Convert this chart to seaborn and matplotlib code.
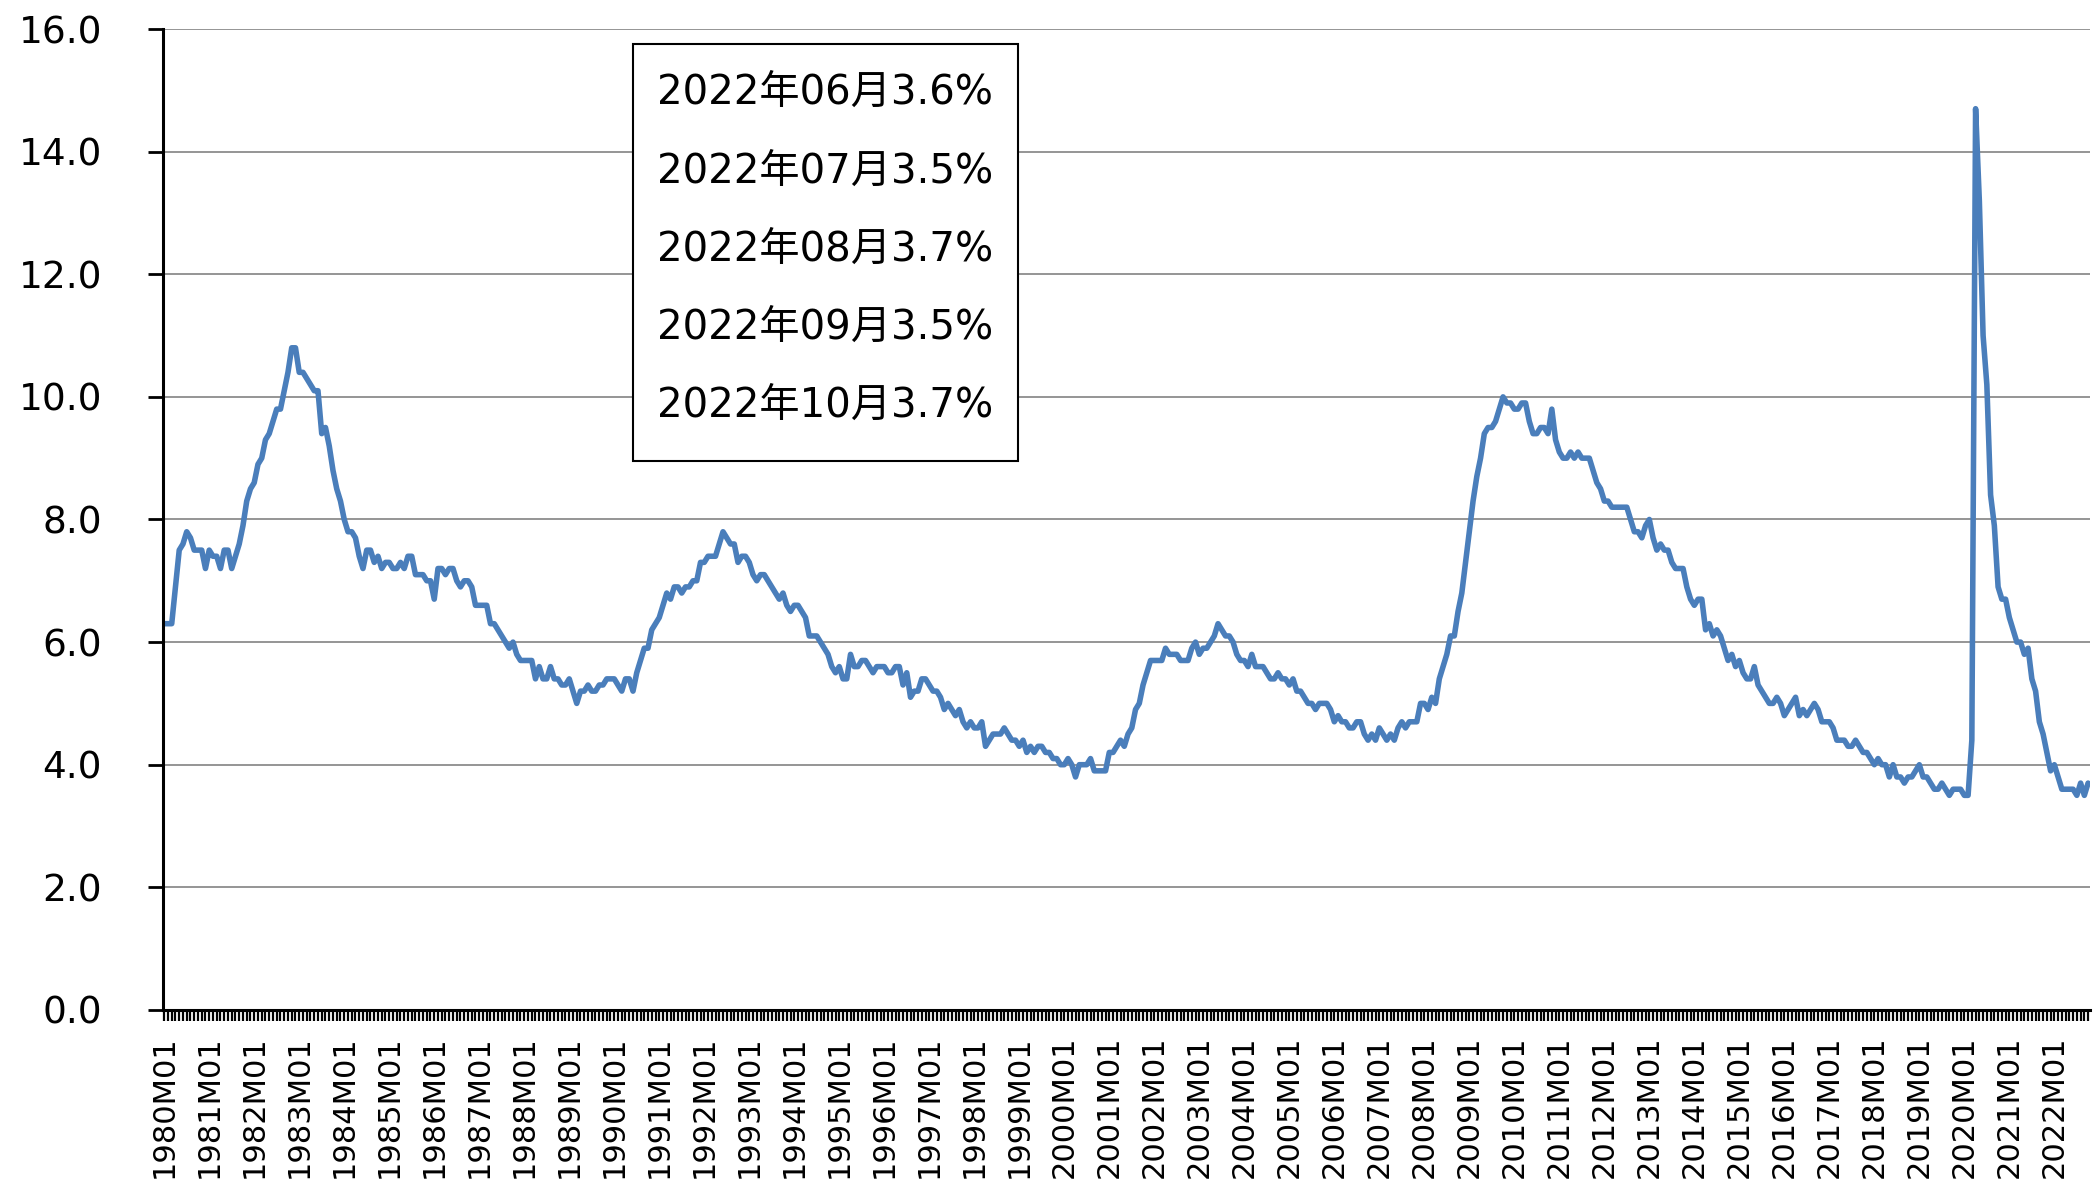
import numpy as np
import pandas as pd
import seaborn as sns
import matplotlib.pyplot as plt
from matplotlib.patches import Rectangle

# monthly unemployment rate (%), 1980M01 - 2022M10
rate_1980s = [
    6.3, 6.3, 6.3, 6.9, 7.5, 7.6, 7.8, 7.7, 7.5, 7.5, 7.5, 7.2,
    7.5, 7.4, 7.4, 7.2, 7.5, 7.5, 7.2, 7.4, 7.6, 7.9, 8.3, 8.5,
    8.6, 8.9, 9.0, 9.3, 9.4, 9.6, 9.8, 9.8, 10.1, 10.4, 10.8, 10.8,
    10.4, 10.4, 10.3, 10.2, 10.1, 10.1, 9.4, 9.5, 9.2, 8.8, 8.5, 8.3,
    8.0, 7.8, 7.8, 7.7, 7.4, 7.2, 7.5, 7.5, 7.3, 7.4, 7.2, 7.3,
    7.3, 7.2, 7.2, 7.3, 7.2, 7.4, 7.4, 7.1, 7.1, 7.1, 7.0, 7.0,
    6.7, 7.2, 7.2, 7.1, 7.2, 7.2, 7.0, 6.9, 7.0, 7.0, 6.9, 6.6,
    6.6, 6.6, 6.6, 6.3, 6.3, 6.2, 6.1, 6.0, 5.9, 6.0, 5.8, 5.7,
    5.7, 5.7, 5.7, 5.4, 5.6, 5.4, 5.4, 5.6, 5.4, 5.4, 5.3, 5.3,
    5.4, 5.2, 5.0, 5.2, 5.2, 5.3, 5.2, 5.2, 5.3, 5.3, 5.4, 5.4,
]
rate_1990s = [
    5.4, 5.3, 5.2, 5.4, 5.4, 5.2, 5.5, 5.7, 5.9, 5.9, 6.2, 6.3,
    6.4, 6.6, 6.8, 6.7, 6.9, 6.9, 6.8, 6.9, 6.9, 7.0, 7.0, 7.3,
    7.3, 7.4, 7.4, 7.4, 7.6, 7.8, 7.7, 7.6, 7.6, 7.3, 7.4, 7.4,
    7.3, 7.1, 7.0, 7.1, 7.1, 7.0, 6.9, 6.8, 6.7, 6.8, 6.6, 6.5,
    6.6, 6.6, 6.5, 6.4, 6.1, 6.1, 6.1, 6.0, 5.9, 5.8, 5.6, 5.5,
    5.6, 5.4, 5.4, 5.8, 5.6, 5.6, 5.7, 5.7, 5.6, 5.5, 5.6, 5.6,
    5.6, 5.5, 5.5, 5.6, 5.6, 5.3, 5.5, 5.1, 5.2, 5.2, 5.4, 5.4,
    5.3, 5.2, 5.2, 5.1, 4.9, 5.0, 4.9, 4.8, 4.9, 4.7, 4.6, 4.7,
    4.6, 4.6, 4.7, 4.3, 4.4, 4.5, 4.5, 4.5, 4.6, 4.5, 4.4, 4.4,
    4.3, 4.4, 4.2, 4.3, 4.2, 4.3, 4.3, 4.2, 4.2, 4.1, 4.1, 4.0,
]
rate_2000s = [
    4.0, 4.1, 4.0, 3.8, 4.0, 4.0, 4.0, 4.1, 3.9, 3.9, 3.9, 3.9,
    4.2, 4.2, 4.3, 4.4, 4.3, 4.5, 4.6, 4.9, 5.0, 5.3, 5.5, 5.7,
    5.7, 5.7, 5.7, 5.9, 5.8, 5.8, 5.8, 5.7, 5.7, 5.7, 5.9, 6.0,
    5.8, 5.9, 5.9, 6.0, 6.1, 6.3, 6.2, 6.1, 6.1, 6.0, 5.8, 5.7,
    5.7, 5.6, 5.8, 5.6, 5.6, 5.6, 5.5, 5.4, 5.4, 5.5, 5.4, 5.4,
    5.3, 5.4, 5.2, 5.2, 5.1, 5.0, 5.0, 4.9, 5.0, 5.0, 5.0, 4.9,
    4.7, 4.8, 4.7, 4.7, 4.6, 4.6, 4.7, 4.7, 4.5, 4.4, 4.5, 4.4,
    4.6, 4.5, 4.4, 4.5, 4.4, 4.6, 4.7, 4.6, 4.7, 4.7, 4.7, 5.0,
    5.0, 4.9, 5.1, 5.0, 5.4, 5.6, 5.8, 6.1, 6.1, 6.5, 6.8, 7.3,
    7.8, 8.3, 8.7, 9.0, 9.4, 9.5, 9.5, 9.6, 9.8, 10.0, 9.9, 9.9,
]
rate_2010s = [
    9.8, 9.8, 9.9, 9.9, 9.6, 9.4, 9.4, 9.5, 9.5, 9.4, 9.8, 9.3,
    9.1, 9.0, 9.0, 9.1, 9.0, 9.1, 9.0, 9.0, 9.0, 8.8, 8.6, 8.5,
    8.3, 8.3, 8.2, 8.2, 8.2, 8.2, 8.2, 8.0, 7.8, 7.8, 7.7, 7.9,
    8.0, 7.7, 7.5, 7.6, 7.5, 7.5, 7.3, 7.2, 7.2, 7.2, 6.9, 6.7,
    6.6, 6.7, 6.7, 6.2, 6.3, 6.1, 6.2, 6.1, 5.9, 5.7, 5.8, 5.6,
    5.7, 5.5, 5.4, 5.4, 5.6, 5.3, 5.2, 5.1, 5.0, 5.0, 5.1, 5.0,
    4.8, 4.9, 5.0, 5.1, 4.8, 4.9, 4.8, 4.9, 5.0, 4.9, 4.7, 4.7,
    4.7, 4.6, 4.4, 4.4, 4.4, 4.3, 4.3, 4.4, 4.3, 4.2, 4.2, 4.1,
    4.0, 4.1, 4.0, 4.0, 3.8, 4.0, 3.8, 3.8, 3.7, 3.8, 3.8, 3.9,
    4.0, 3.8, 3.8, 3.7, 3.6, 3.6, 3.7, 3.6, 3.5, 3.6, 3.6, 3.6,
]
rate_2020s = [
    3.5, 3.5, 4.4, 14.7, 13.2, 11.0, 10.2, 8.4, 7.9, 6.9, 6.7, 6.7,
    6.4, 6.2, 6.0, 6.0, 5.8, 5.9, 5.4, 5.2, 4.7, 4.5, 4.2, 3.9,
    4.0, 3.8, 3.6, 3.6, 3.6, 3.6, 3.5, 3.7, 3.5, 3.7,
]
latest_notes = [
    "2022年06月3.6%",
    "2022年07月3.5%",
    "2022年08月3.7%",
    "2022年09月3.5%",
    "2022年10月3.7%",
]

rate = rate_1980s + rate_1990s + rate_2000s + rate_2010s + rate_2020s
months = [f"{1980 + i // 12}M{i % 12 + 1:02d}" for i in range(len(rate))]
df = pd.DataFrame({"pos": np.arange(len(rate)), "month": months, "rate": rate})

sns.set_theme(style="white")
plt.rcParams["font.family"] = ["DejaVu Sans", "Noto Sans CJK JP"]
plt.rcParams["text.color"] = "black"
plt.rcParams["xtick.color"] = "black"
plt.rcParams["ytick.color"] = "black"

fig = plt.figure(figsize=(20.99, 11.79), dpi=100)
ax = fig.add_axes([0.0777, 0.1434, 0.918, 0.832])

sns.lineplot(data=df, x="pos", y="rate", color="#4a7ebb", linewidth=4.0, ax=ax)

ax.set_ylim(0, 16)
ax.set_xlim(-0.3, len(rate) - 0.5)
ax.set_yticks(np.arange(0, 17, 2))
ax.set_yticklabels([f"{v:.1f}" for v in np.arange(0, 17, 2)])
ax.yaxis.grid(True, color="#8c8c8c", linewidth=1.3)
ax.set_axisbelow(True)

ax.set_xticks(df["pos"])
ax.set_xticklabels([m if m.endswith("M01") else "" for m in months], rotation=90)
ax.tick_params(axis="x", length=8, width=1.6, colors="black", labelsize=22, pad=10,
               bottom=True, direction="out")
ax.tick_params(axis="y", length=11, width=2, colors="black", labelsize=27, pad=33,
               left=True, direction="out")
for lab in ax.get_xticklabels():
    lab.set_verticalalignment("top")

sns.despine(ax=ax)
for side in ["left", "bottom"]:
    ax.spines[side].set_color("black")
    ax.spines[side].set_linewidth(2.2)
ax.set_xlabel("")
ax.set_ylabel("")

# note box with the latest values
fig.patches.append(Rectangle((0.3016, 0.609), 0.1834, 0.3537, transform=fig.transFigure,
                             facecolor="white", edgecolor="black", linewidth=1.5, zorder=5))
for i, note in enumerate(latest_notes):
    fig.text(0.313, 0.921 - i * 0.0663, note, fontsize=29, color="black",
             va="center", ha="left", zorder=6)

fig.savefig("out.png", dpi=100)
